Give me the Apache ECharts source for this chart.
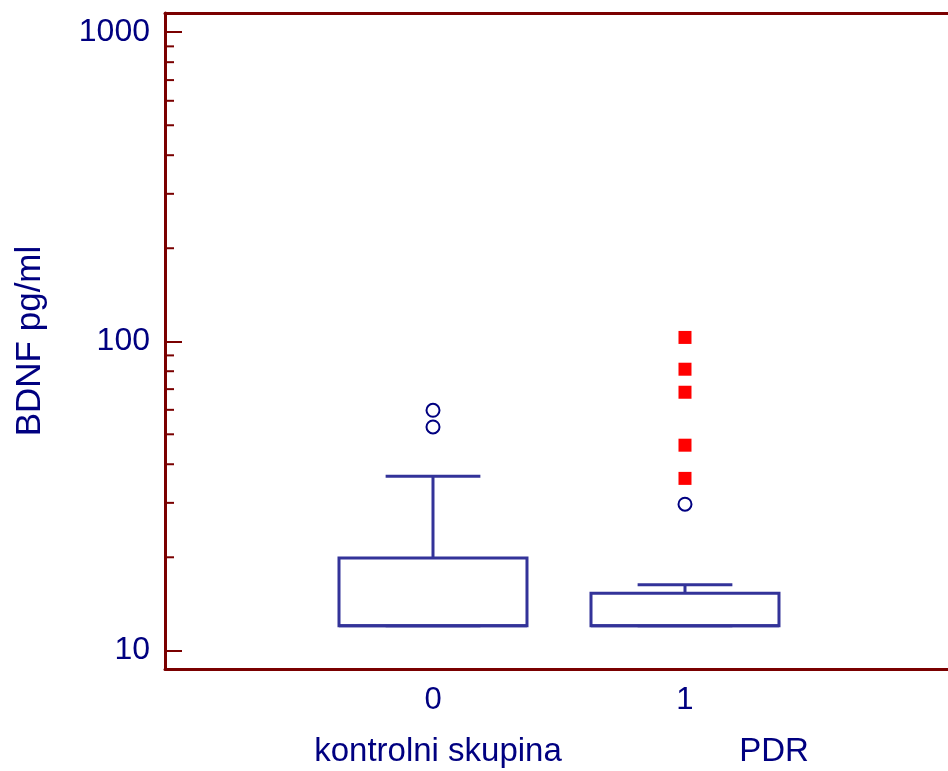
<!DOCTYPE html>
<html>
<head>
<meta charset="utf-8">
<script src="https://cdn.jsdelivr.net/npm/echarts@6/dist/echarts.min.js"></script>
<style>
  html, body { margin: 0; padding: 0; background: #fff; }
  #chart { width: 948px; height: 771px; }
</style>
</head>
<body>
<div id="chart"></div>
<script>
// groups on the x axis
var groupCodes = [0, 1];
var groupNames = ['kontrolni skupina', 'PDR'];

// box statistics: [x, min, q1, median, q3, max]
var boxStats = [
  [0, 12, 12, 12, 19.9, 36.6],
  [1, 12, 12, 12, 15.3, 16.3]
];

// outside values (circles)
var outsideX = [0, 0, 1];
var outsideY = [59.8, 52.8, 29.7];

// far out values (red squares)
var farX = [1, 1, 1, 1, 1];
var farY = [102.9, 81.2, 68.4, 46.1, 36.0];

// y axis minor ticks
var minorTicks = [20, 30, 40, 50, 60, 70, 80, 90, 200, 300, 400, 500, 600, 700, 800, 900];

var X_MIN = -1.0635, X_MAX = 2.0437;
var navy = '#000080';
var boxColor = '#333399';
var axisColor = '#7a0000';
var font = '"Liberation Sans", Arial, sans-serif';

var myChart = echarts.init(document.getElementById('chart'));

var outsideData = outsideX.map(function (x, i) { return [x, outsideY[i]]; });
var farData = farX.map(function (x, i) { return [x, farY[i]]; });

var option = {
  animation: false,
  backgroundColor: '#fff',
  grid: { left: 165, top: 13, right: 0, bottom: 102, containLabel: false, outerBoundsMode: 'none' },
  xAxis: [
    {
      type: 'value',
      min: X_MIN,
      max: X_MAX,
      axisLine: { show: true, onZero: false, lineStyle: { color: axisColor, width: 3 } },
      axisTick: { show: false },
      splitLine: { show: false },
      axisLabel: {
        customValues: groupCodes,
        color: navy,
        fontSize: 31,
        fontFamily: font,
        margin: 16,
        formatter: function (v) { return String(v); }
      }
    },
    {
      type: 'value',
      position: 'top',
      min: X_MIN,
      max: X_MAX,
      axisLine: { show: true, onZero: false, lineStyle: { color: axisColor, width: 3 } },
      axisTick: { show: false },
      axisLabel: { show: false },
      splitLine: { show: false }
    }
  ],
  yAxis: {
    type: 'log',
    logBase: 10,
    min: 8.70,
    max: 1154,
    name: 'BDNF pg/ml',
    nameLocation: 'middle',
    nameGap: 117,
    nameTextStyle: { color: navy, fontSize: 35, fontFamily: font },
    axisLine: { show: true, onZero: false, lineStyle: { color: axisColor, width: 3 } },
    axisTick: { show: true, inside: true, length: 17, lineStyle: { color: axisColor, width: 2 } },
    splitLine: { show: false },
    axisLabel: {
      color: navy,
      fontSize: 32,
      fontFamily: font,
      margin: 15,
      showMinLabel: false,
      showMaxLabel: false,
      formatter: function (v) { return String(Math.round(v)); }
    }
  },
  graphic: [
    {
      type: 'text',
      x: 438, y: 752,
      style: { text: groupNames[0], fill: navy, font: '33px ' + font, textAlign: 'center', textVerticalAlign: 'middle' }
    },
    {
      type: 'text',
      x: 774, y: 752,
      style: { text: groupNames[1], fill: navy, font: '33px ' + font, textAlign: 'center', textVerticalAlign: 'middle' }
    }
  ],
  series: [
    {
      // minor ticks of the log axis
      type: 'custom',
      clip: false,
      silent: true,
      data: minorTicks,
      encode: { y: 0 },
      renderItem: function (params, api) {
        var p = api.coord([X_MIN, api.value(0)]);
        return {
          type: 'line',
          shape: { x1: p[0], y1: p[1], x2: p[0] + 9, y2: p[1] },
          style: { stroke: axisColor, lineWidth: 2 }
        };
      }
    },
    {
      // box and whiskers
      type: 'custom',
      silent: true,
      data: boxStats,
      encode: { x: 0, y: [1, 2, 3, 4, 5] },
      renderItem: function (params, api) {
        var x = api.value(0);
        var lo = api.value(1), q1 = api.value(2), med = api.value(3), q3 = api.value(4), hi = api.value(5);
        var bh = 0.373, ch = 0.188;
        var pL = api.coord([x - bh, q3]);
        var pR = api.coord([x + bh, q1]);
        var st = { stroke: boxColor, lineWidth: 3, fill: null };
        function seg(a, b) {
          return { type: 'line', shape: { x1: a[0], y1: a[1], x2: b[0], y2: b[1] }, style: st };
        }
        return {
          type: 'group',
          children: [
            seg(api.coord([x, q3]), api.coord([x, hi])),
            seg(api.coord([x, q1]), api.coord([x, lo])),
            seg(api.coord([x - ch, hi]), api.coord([x + ch, hi])),
            seg(api.coord([x - ch, lo]), api.coord([x + ch, lo])),
            {
              type: 'rect',
              shape: { x: pL[0], y: pL[1], width: pR[0] - pL[0], height: pR[1] - pL[1] },
              style: { stroke: boxColor, lineWidth: 3, fill: '#fff' }
            },
            seg(api.coord([x - bh, med]), api.coord([x + bh, med]))
          ]
        };
      }
    },
    {
      type: 'scatter',
      data: outsideData,
      symbol: 'circle',
      symbolSize: 13,
      itemStyle: { color: '#fff', borderColor: navy, borderWidth: 2, opacity: 1 }
    },
    {
      type: 'scatter',
      data: farData,
      symbol: 'rect',
      symbolSize: 13,
      itemStyle: { color: '#ff0000', opacity: 1 }
    }
  ]
};

myChart.setOption(option);
</script>
</body>
</html>
